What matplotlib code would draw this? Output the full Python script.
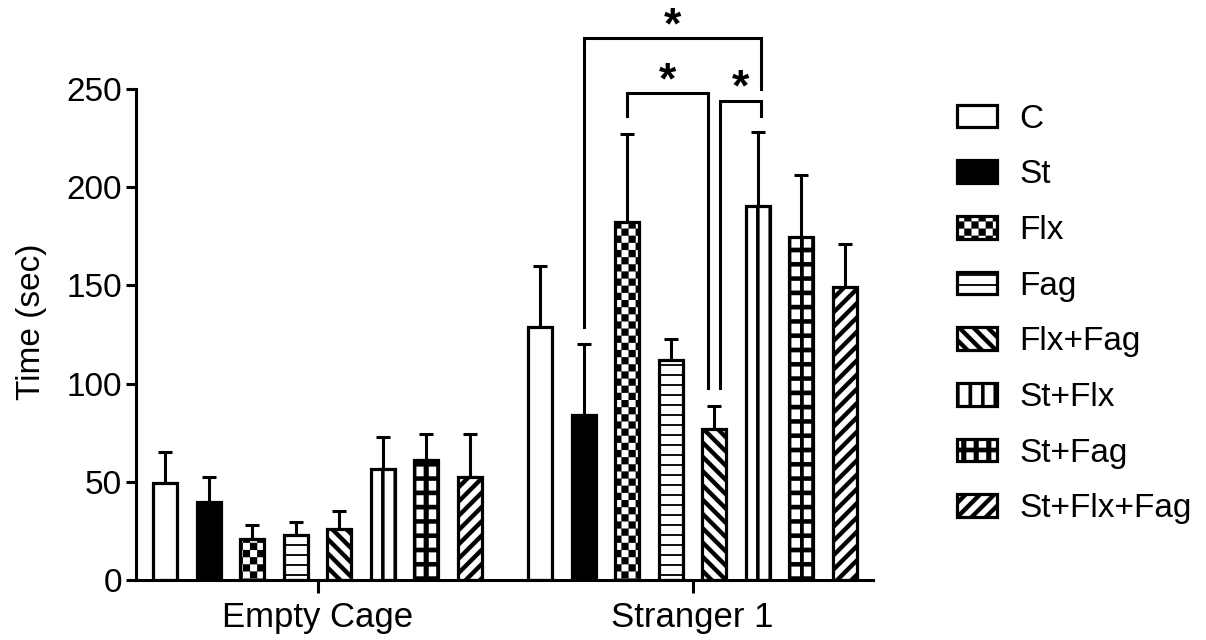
import warnings
import numpy as np
import matplotlib
matplotlib.use('Agg')
import matplotlib.pyplot as plt
from matplotlib import hatch as mhatch
from matplotlib.path import Path

warnings.filterwarnings('ignore')

groups = ['Empty Cage', 'Stranger 1']
treatments = ['C', 'St', 'Flx', 'Fag', 'Flx+Fag', 'St+Flx', 'St+Fag', 'St+Flx+Fag']
empty_mean = [49.3, 39.5, 20.7, 23.0, 26.2, 56.6, 61.0, 52.4]
empty_sem = [15.7, 12.9, 7.3, 6.3, 8.7, 16.0, 13.2, 22.1]
stranger_mean = [128.8, 83.9, 182.4, 112.2, 76.7, 190.2, 174.6, 149.2]
stranger_sem = [31.2, 36.1, 44.9, 10.3, 12.1, 37.7, 31.8, 21.9]

# significance brackets in Stranger 1: (left bar, right bar, left leg end, right leg end, top)
brackets = [(1, 5, 129, 250, 276), (2, 4, 236, 98, 248), (4, 5, 98, 236, 244)]


# --- custom fill patterns built from filled quads in the unit hatch tile ---
def rect(x0, y0, x1, y1):
    return [(x0, y0), (x1, y0), (x1, y1), (x0, y1)]


class BlockHatch(mhatch.HatchPatternBase):
    key = None

    def __init__(self, hatch, density):
        self.quads = self.make() if self.key in hatch else []
        self.num_vertices = 5 * len(self.quads)

    def set_vertices_and_codes(self, vertices, codes):
        for k, q in enumerate(self.quads):
            vertices[5*k:5*k+4] = q
            vertices[5*k+4] = q[0]
            codes[5*k] = Path.MOVETO
            codes[5*k+1:5*k+4] = Path.LINETO
            codes[5*k+4] = Path.CLOSEPOLY


class Checker(BlockHatch):
    key = 'c'

    def make(self):
        n = 14
        return [rect(i/n, j/n, (i+1)/n, (j+1)/n)
                for i in range(n) for j in range(n) if (i + j) % 2 == 0]


class HLines(BlockHatch):
    key = 'h'

    def make(self):
        n, t = 10, 0.018
        return [rect(0, (j+.5)/n - t/2, 1, (j+.5)/n + t/2) for j in range(n)]


class VLines(BlockHatch):
    key = 'v'

    def make(self):
        # phase puts one line through the middle of each bar
        n, t, ph = 8, 0.035, 0.625
        return [rect((i+ph)/n - t/2, 0, (i+ph)/n + t/2, 1) for i in range(-1, n)]


class Grid(BlockHatch):
    key = 'g'

    def make(self):
        nx, ny, th, tv, ph = 8, 7, 0.045, 0.05, 0.1
        quads = [rect(0, (j+.5)/ny - th/2, 1, (j+.5)/ny + th/2) for j in range(ny)]
        for i in range(-1, nx):
            xc = (i + ph) / nx
            for j in range(-1, ny):
                quads.append(rect(xc - tv/2, (j+.5)/ny + th/2, xc + tv/2, (j+1.5)/ny - th/2))
        return quads


class Slash(BlockHatch):
    key = 'f'

    def make(self):
        n, w = 7, 0.06
        return [[(k/n - 1, -1), (k/n - 1 + w, -1), (k/n + 2 + w, 2), (k/n + 2, 2)]
                for k in range(-n - 1, n + 1)]


class Backslash(BlockHatch):
    key = 'b'

    def make(self):
        n, w = 7, 0.06
        return [[(k/n + 1, -1), (k/n + 1 + w, -1), (k/n - 2 + w, 2), (k/n - 2, 2)]
                for k in range(-1, 2*n + 1)]


mhatch._hatch_types.extend([Checker, HLines, VLines, Grid, Slash, Backslash])

plt.rcParams['font.family'] = ['Liberation Sans', 'DejaVu Sans']
plt.rcParams['hatch.linewidth'] = 0.1

fig = plt.figure(figsize=(12.06, 6.4), dpi=100)
ax = fig.add_axes([0.1128, 0.09375, 0.6111, 0.7672])

pitch, width = 0.116, 0.064
faces = ['white', 'black'] + ['white'] * 6
hatches = [None, None, 'c', 'h', 'b', 'v', 'g', 'f']
means = np.array([empty_mean, stranger_mean])
sems = np.array([empty_sem, stranger_sem])
gx = np.arange(len(groups))

for i, name in enumerate(treatments):
    x = gx + (i - 3.5) * pitch
    ax.errorbar(x, means[:, i], yerr=[np.zeros(len(groups)), sems[:, i]], fmt='none',
                ecolor='black', elinewidth=2.2, capsize=4.7, capthick=2.2, zorder=1)
    ax.bar(x, means[:, i], width, color=faces[i], edgecolor='black', linewidth=2.3,
           hatch=hatches[i], label=name, zorder=2)

# brackets with stars above the Stranger 1 bars
centers = gx[1] + (np.arange(len(treatments)) - 3.5) * pitch
nudge = [(0, 0.009), (0, -0.016), (0.015, 0.009)]
for (a, b, ya, yb, top), (da, db) in zip(brackets, nudge):
    xa, xb = centers[a] + da, centers[b] + db
    ax.plot([xa, xa, xb, xb], [ya, top, top, yb], color='black', lw=2.2,
            clip_on=False, solid_joinstyle='miter')
    ax.annotate('*', ((xa + xb) / 2, top), xytext=(0, 0), textcoords='offset points',
                ha='center', va='baseline', fontsize=32, fontweight='bold',
                annotation_clip=False)

ax.set_xlim(-0.484, 1.481)
ax.set_ylim(0, 250)
ax.set_yticks(range(0, 251, 50))
ax.set_xticks(gx)
ax.set_xticklabels(groups)
for s in ['top', 'right']:
    ax.spines[s].set_visible(False)
for s in ['left', 'bottom']:
    ax.spines[s].set_linewidth(2.2)
ax.tick_params(axis='y', length=7, width=2.2, labelsize=24, pad=3)
ax.tick_params(axis='x', length=9, width=2.2, labelsize=25, pad=6)
ax.set_ylabel('Time (sec)', fontsize=24)
ax.yaxis.set_label_coords(-0.121, 0.525)

ax.legend(loc='upper left', bbox_to_anchor=(0.7935, 0.838), bbox_transform=fig.transFigure,
          frameon=False, fontsize=24, borderpad=0, borderaxespad=0, handlelength=1.2,
          handleheight=0.66, handletextpad=0.66, labelspacing=0.74)

fig.savefig('out.png', dpi=100)
